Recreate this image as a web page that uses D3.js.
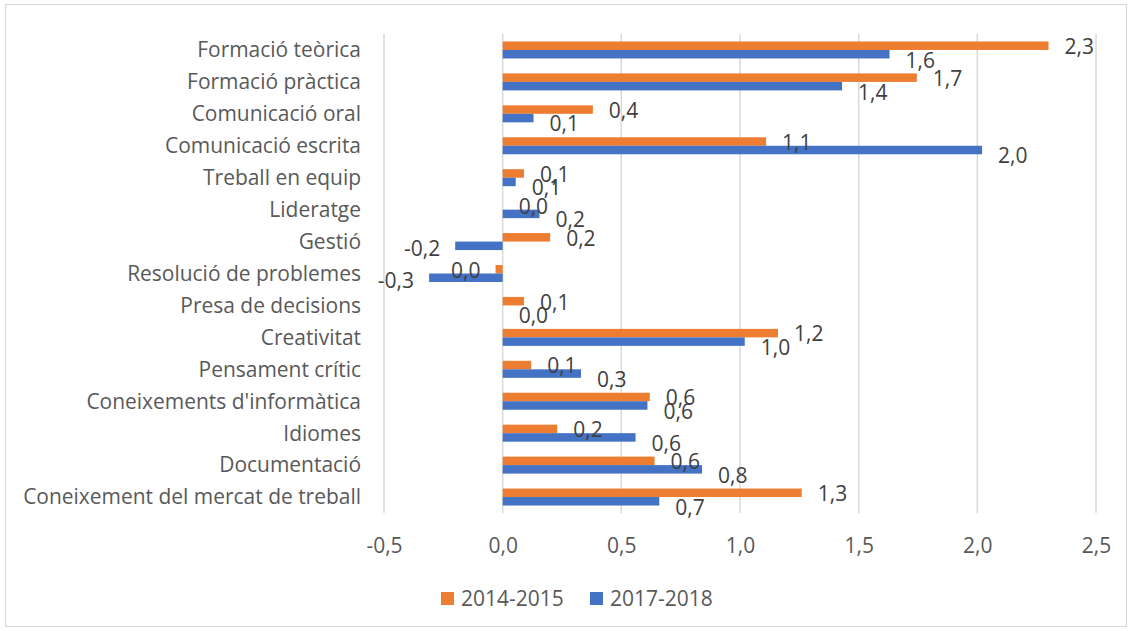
<!DOCTYPE html>
<html>
<head>
<meta charset="utf-8">
<script src="https://cdn.jsdelivr.net/npm/d3@7"></script>
<style>
  html, body { margin: 0; padding: 0; background: #fff; }
  svg { display: block; font-family: "Open Sans", "Noto Sans", sans-serif; }
</style>
</head>
<body>
<svg id="chart" width="1132" height="631"></svg>
<script>
const categories = [
  "Formació teòrica", "Formació pràctica", "Comunicació oral", "Comunicació escrita",
  "Treball en equip", "Lideratge", "Gestió", "Resolució de problemes",
  "Presa de decisions", "Creativitat", "Pensament crític", "Coneixements d'informàtica",
  "Idiomes", "Documentació", "Coneixement del mercat de treball"
];
const seriesNames = ["2014-2015", "2017-2018"];
const values2014 = [2.30, 1.745, 0.38, 1.11, 0.09, 0.00, 0.20, -0.03, 0.09, 1.16, 0.12, 0.62, 0.23, 0.64, 1.26];
const values2017 = [1.63, 1.43, 0.13, 2.02, 0.055, 0.155, -0.20, -0.31, 0.00, 1.02, 0.33, 0.61, 0.56, 0.84, 0.66];
const xTicks = [-0.5, 0, 0.5, 1.0, 1.5, 2.0, 2.5];
const colors = ["#ED7D31", "#4472C4"];

const svg = d3.select("#chart");
svg.append("rect").attr("x", 0).attr("y", 0).attr("width", 1132).attr("height", 631).attr("fill", "#fff");
svg.append("rect").attr("x", 5.5).attr("y", 4.5).attr("width", 1121).attr("height", 622)
  .attr("fill", "none").attr("stroke", "#d9d9d9").attr("stroke-width", 1.2);

const plot = { left: 384, right: 1096, top: 34, bottom: 513 };
const x = d3.scaleLinear().domain([-0.5, 2.5]).range([plot.left, plot.right]);
const y = d3.scaleBand().domain(categories).range([plot.top, plot.bottom]).paddingInner(0).paddingOuter(0);
const groupH = 17;
const ySub = d3.scaleBand().domain(seriesNames).range([0, groupH]).padding(0);

const fmt = v => {
  const r = Math.round(v * 10) / 10;
  const s = (r === 0 ? 0 : r).toFixed(1);
  return s.replace(".", ",");
};

// gridlines
svg.append("g").selectAll("line").data(xTicks).join("line")
  .attr("x1", d => x(d)).attr("x2", d => x(d))
  .attr("y1", plot.top).attr("y2", plot.bottom)
  .attr("stroke", "#d9d9d9").attr("stroke-width", 1.5);

// x axis labels
const xAxis = d3.axisBottom(x).tickValues(xTicks).tickSize(0).tickPadding(0)
  .tickFormat(d => d.toFixed(1).replace(".", ","));
const gx = svg.append("g").attr("transform", `translate(0, ${546})`).call(xAxis);
gx.select(".domain").remove();
gx.selectAll("text").attr("fill", "#595959").attr("font-size", 21)
  .attr("font-family", '"Open Sans", sans-serif').attr("dy", "0.35em").attr("y", 0);

// y axis labels
const yAxis = d3.axisLeft(y).tickSize(0).tickPadding(0);
const gy = svg.append("g").attr("transform", `translate(361, 0)`).call(yAxis);
gy.select(".domain").remove();
gy.selectAll("text").attr("fill", "#595959").attr("font-size", 19)
  .attr("font-family", '"Open Sans", sans-serif').attr("x", 0).attr("dy", "0.35em");
let maxW = 0;
gy.selectAll("text").each(function() { maxW = Math.max(maxW, this.getComputedTextLength()); });
const fs = 19 * 338 / maxW;
gy.selectAll("text").attr("font-size", fs);

// bars
const data = [];
categories.forEach((c, i) => {
  data.push({ cat: c, s: seriesNames[0], v: values2014[i], col: colors[0] });
  data.push({ cat: c, s: seriesNames[1], v: values2017[i], col: colors[1] });
});
const off = (y.bandwidth() - groupH) / 2;
svg.append("g").selectAll("rect").data(data).join("rect")
  .attr("x", d => x(Math.min(0, d.v)))
  .attr("width", d => Math.abs(x(d.v) - x(0)))
  .attr("y", d => y(d.cat) + off + ySub(d.s))
  .attr("height", ySub.bandwidth())
  .attr("fill", d => d.col);

// data labels
svg.append("g").selectAll("text").data(data).join("text")
  .attr("x", d => d.v < 0 ? x(d.v) - 15 : x(d.v) + 16)
  .attr("y", d => y(d.cat) + off + ySub(d.s) + ySub.bandwidth() / 2 + (d.s === seriesNames[0] ? 1 : (d.v < 0 ? 3 : 6)))
  .attr("text-anchor", d => d.v < 0 ? "end" : "start")
  .attr("dy", "0.35em")
  .attr("font-size", 21)
  .attr("fill", "#404040")
  .text(d => fmt(d.v));

// legend
const legend = svg.append("g");
const legX = [441, 590];
seriesNames.forEach((s, i) => {
  legend.append("rect").attr("x", legX[i]).attr("y", 592).attr("width", 13).attr("height", 13).attr("fill", colors[i]);
  legend.append("text").attr("x", legX[i] + 20).attr("y", 598.5).attr("dy", "0.35em")
    .attr("font-size", 21).attr("fill", "#595959").text(s);
});
</script>
</body>
</html>
